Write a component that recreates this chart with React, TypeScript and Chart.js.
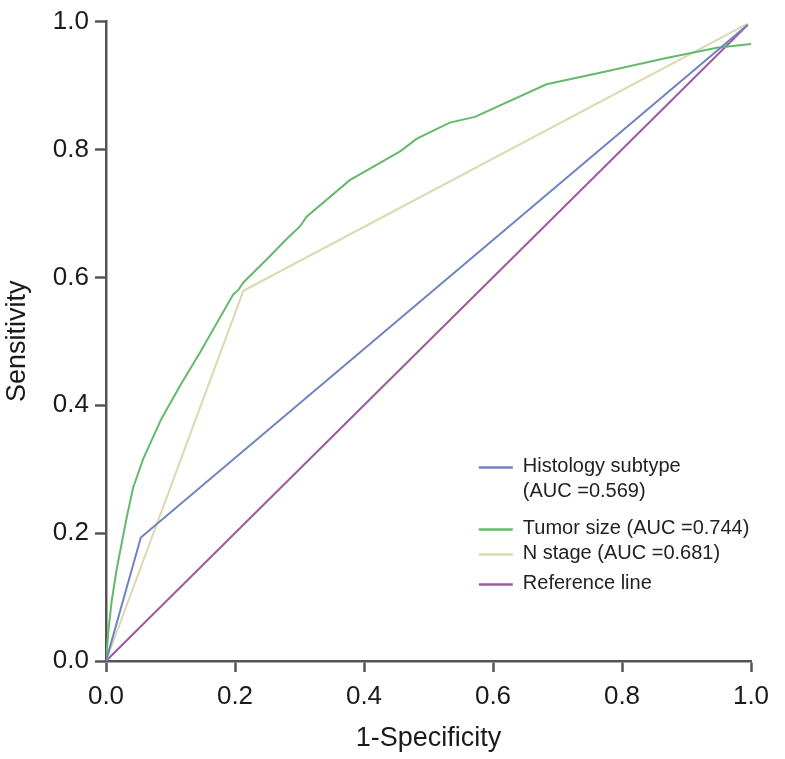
import React, { useEffect, useRef } from "react";
import { Chart, registerables } from "chart.js";

Chart.register(...registerables);

const histologyX = [0, 0.054, 0.995];
const histologyY = [0, 0.193, 0.995];

const tumorX = [0, 0.004, 0.009, 0.016, 0.022, 0.032, 0.042, 0.058, 0.086, 0.115, 0.146, 0.197, 0.205, 0.213, 0.249, 0.280, 0.301, 0.311, 0.378, 0.456, 0.482, 0.533, 0.572, 0.683, 0.766, 0.869, 0.947, 1.0];
const tumorY = [0, 0.05, 0.095, 0.14, 0.172, 0.224, 0.271, 0.317, 0.379, 0.431, 0.483, 0.573, 0.580, 0.592, 0.628, 0.660, 0.680, 0.695, 0.752, 0.797, 0.817, 0.842, 0.851, 0.902, 0.920, 0.943, 0.959, 0.965];

const nStageX = [0, 0.213, 0.995];
const nStageY = [0, 0.579, 0.997];

const referenceX = [0, 0.995];
const referenceY = [0, 0.995];

const tickValues = [0, 0.2, 0.4, 0.6, 0.8, 1.0];

const legendLabels: string[][] = [
  ["Histology subtype", "(AUC =0.569)"],
  ["Tumor size (AUC =0.744)"],
  ["N stage (AUC =0.681)"],
  ["Reference line"],
];

const colors = ["#6f83c2", "#65b96a", "#dcd8b0", "#9c5b9e"];

const toPoints = (xs: number[], ys: number[]) => xs.map((x, i) => ({ x, y: ys[i] }));

const FONT = "'Liberation Sans', Arial, Helvetica, sans-serif";

const legendPlugin = {
  id: "insideLegend",
  afterDraw(chart: any) {
    const { ctx, scales } = chart;
    const xs = scales.x;
    const ys = scales.y;
    const lineStart = xs.getPixelForValue(0.578);
    const lineEnd = lineStart + 34;
    const textX = lineStart + 44;
    let y = ys.getPixelForValue(0.304);
    const gaps = [37, 25, 30];
    ctx.save();
    ctx.font = `20px ${FONT}`;
    ctx.textBaseline = "middle";
    ctx.fillStyle = "#222";
    legendLabels.forEach((lines, i) => {
      ctx.strokeStyle = colors[i];
      ctx.lineWidth = 2.5;
      ctx.beginPath();
      ctx.moveTo(lineStart, y + 1);
      ctx.lineTo(lineEnd, y + 1);
      ctx.stroke();
      lines.forEach((t, j) => {
        ctx.fillText(t, textX, y + j * 25);
      });
      y += (lines.length - 1) * 25 + (gaps[i] ?? 0);
    });
    ctx.restore();
  },
};

export default function App() {
  const ref = useRef<HTMLCanvasElement>(null);
  useEffect(() => {
    document.body.style.margin = "0";
    const canvas = ref.current!;
    const chart = new Chart(canvas, {
      type: "line",
      data: {
        datasets: [
          { label: "Histology subtype", data: toPoints(histologyX, histologyY), borderColor: colors[0] },
          { label: "Tumor size", data: toPoints(tumorX, tumorY), borderColor: colors[1] },
          { label: "N stage", data: toPoints(nStageX, nStageY), borderColor: colors[2] },
          { label: "Reference line", data: toPoints(referenceX, referenceY), borderColor: colors[3] },
        ].map((d) => ({ ...d, borderWidth: 2, pointRadius: 0, tension: 0, fill: false })),
      },
      options: {
        animation: false,
        responsive: false,
        devicePixelRatio: 1,
        layout: { padding: { left: 0, top: 17, right: 34, bottom: 0 } },
        plugins: { legend: { display: false }, tooltip: { enabled: false } },
        scales: {
          x: {
            type: "linear",
            min: 0,
            max: 1,
            afterFit: (s: any) => { s.height = 98; },
            afterBuildTicks: (s: any) => { s.ticks = tickValues.map((v) => ({ value: v })); },
            ticks: {
              font: { family: FONT, size: 26 },
              color: "#1a1a1a",
              padding: 9,
              callback: (v: any) => Number(v).toFixed(1),
            },
            grid: { drawOnChartArea: false, drawTicks: true, tickLength: 11, tickColor: "#555", tickWidth: 2.5 },
            border: { color: "#555", width: 2.5 },
            title: { display: true, text: "1-Specificity", font: { family: FONT, size: 27 }, color: "#1a1a1a", padding: 4 },
          },
          y: {
            type: "linear",
            min: 0,
            max: 1,
            afterFit: (s: any) => { s.width = 106; },
            afterBuildTicks: (s: any) => { s.ticks = tickValues.map((v) => ({ value: v })); },
            ticks: {
              font: { family: FONT, size: 26 },
              color: "#1a1a1a",
              padding: 6,
              callback: (v: any) => Number(v).toFixed(1),
            },
            grid: { drawOnChartArea: false, drawTicks: true, tickLength: 11, tickColor: "#555", tickWidth: 2.5 },
            border: { color: "#555", width: 2.5 },
            title: { display: true, text: "Sensitivity", font: { family: FONT, size: 27 }, color: "#1a1a1a", padding: 1 },
          },
        },
      },
      plugins: [legendPlugin],
    });
    return () => chart.destroy();
  }, []);
  return (
    <div style={{ position: "absolute", left: 0, top: 0, width: 785, height: 759, background: "#fff" }}>
      <canvas ref={ref} width={785} height={759} />
    </div>
  );
}
